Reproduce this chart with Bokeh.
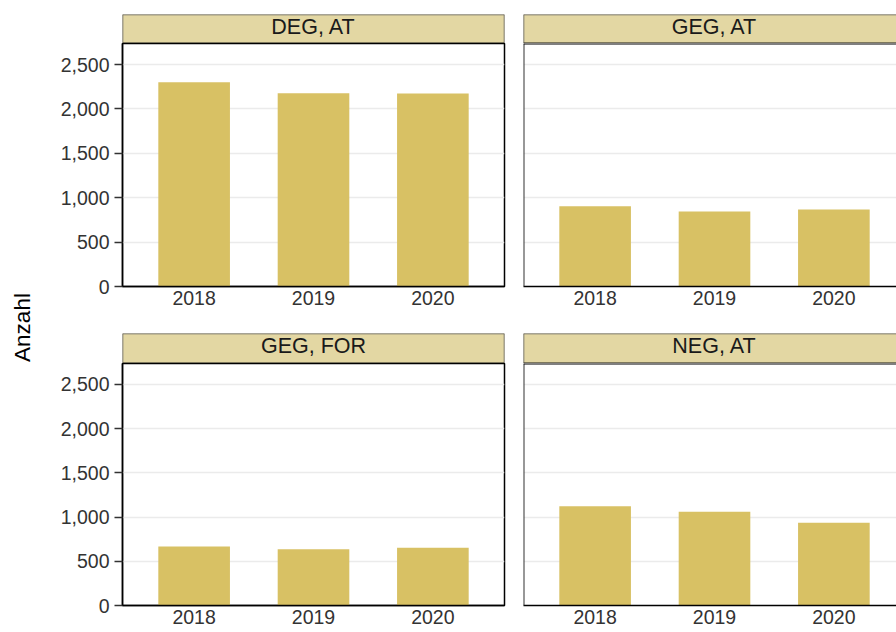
import math
from bokeh.plotting import figure
from bokeh.layouts import row, column
from bokeh.models import Range1d, FixedTicker, NumeralTickFormatter, Label, Span
from bokeh.embed import file_html
from bokeh.resources import INLINE

# ---- data ----
years = [2018, 2019, 2020]
panel_titles = ["DEG, AT", "GEG, AT", "GEG, FOR", "NEG, AT"]
deg_at = [2300, 2178, 2174]
geg_at = [904, 846, 868]
geg_for = [667, 637, 654]
neg_at = [1123, 1060, 937]
y_ticks = [0, 500, 1000, 1500, 2000, 2500]
y_label = "Anzahl"

# ---- style ----
BAR = "#D8C164"
STRIP = "#E3D7A3"
FONT = "Liberation Sans"
TICK_FS = "19.5px"
STRIP_FS = "21.5px"
TITLE_FS = "22.5px"
LABEL_COLOR = "#333333"

PX_PER_YEAR = 382 / 3.2
X0 = 2017.4
Y_END = 2737

ANZ_W = 48
LEFT_W, RIGHT_W = 465, 383
LEFT_MBL, LEFT_MBR = 74, 9
RIGHT_MBL, RIGHT_MBR = 10, 0
LEFT_FRAME, RIGHT_FRAME = 382, 373
TOTAL_H = 632
TOP_MBB, BOTTOM_MBB = 47, 27


def base_fig(width, height, frame_w, mbl, mbr, mbt, mbb, y_range, y_loc, x_loc):
    p = figure(width=width, height=height,
               x_range=Range1d(X0, X0 + frame_w / PX_PER_YEAR), y_range=y_range,
               output_backend="svg", toolbar_location=None,
               min_border_left=mbl, min_border_right=mbr,
               min_border_top=mbt, min_border_bottom=mbb,
               y_axis_location=y_loc, x_axis_location=x_loc)
    p.background_fill_color = "white"
    p.border_fill_color = "white"
    return p


def strip_fig(title, left_col, top):
    w = LEFT_W if left_col else RIGHT_W
    fw = LEFT_FRAME if left_col else RIGHT_FRAME
    mbl = LEFT_MBL if left_col else RIGHT_MBL
    mbr = LEFT_MBR if left_col else RIGHT_MBR
    mbt = 14 if top else 0
    h = 29 + mbt if top else 30
    p = base_fig(w, h, fw, mbl, mbr, mbt, 0, Range1d(0, 1), None, None)
    p.background_fill_color = STRIP
    p.grid.visible = False
    p.outline_line_color = None
    p.add_layout(Span(location=1, dimension="width", line_color="#5a5a5a", line_width=1.5))
    p.add_layout(Span(location=X0, dimension="height", line_color="#5a5a5a", line_width=1.5))
    if left_col:
        p.add_layout(Span(location=X0 + fw / PX_PER_YEAR, dimension="height",
                          line_color="#5a5a5a", line_width=1.5))
    p.add_layout(Span(location=0, dimension="width", line_color="#1a1a1a", line_width=2))
    p.add_layout(Label(x=2019, y=0.586 if top else 0.6, text=title, text_align="center",
                       text_baseline="middle", text_font=FONT,
                       text_font_size=STRIP_FS, text_color="#1a1a1a"))
    return p


def panel_fig(vals, left_col, top):
    w = LEFT_W if left_col else RIGHT_W
    fw = LEFT_FRAME if left_col else RIGHT_FRAME
    mbl = LEFT_MBL if left_col else RIGHT_MBL
    mbr = LEFT_MBR if left_col else RIGHT_MBR
    mbb = TOP_MBB if top else BOTTOM_MBB
    fh = 243 if top else 242
    p = base_fig(w, fh + mbb, fw, mbl, mbr, 0, mbb, Range1d(0, Y_END),
                 "left" if left_col else None, "below")
    p.vbar(x=years, top=vals, width=0.6, fill_color=BAR, line_color=None)
    p.xgrid.visible = False
    p.ygrid.ticker = FixedTicker(ticks=y_ticks)
    p.ygrid.grid_line_color = "#EBEBEB"
    p.ygrid.grid_line_width = 1.5
    p.ygrid.minor_grid_line_color = None

    xa = p.xaxis[0]
    xa.ticker = FixedTicker(ticks=years)
    xa.major_tick_out = 0
    xa.major_tick_in = 0
    xa.minor_tick_out = 0
    xa.minor_tick_in = 0
    xa.axis_line_color = "black"
    xa.axis_line_width = 1.5
    xa.major_label_text_font = FONT
    xa.major_label_text_font_size = TICK_FS
    xa.major_label_text_color = LABEL_COLOR
    xa.major_label_standoff = 4

    if left_col:
        ya = p.yaxis[0]
        ya.ticker = FixedTicker(ticks=y_ticks)
        ya.formatter = NumeralTickFormatter(format="0,0")
        ya.major_tick_out = 8
        ya.major_tick_in = 0
        ya.minor_tick_out = 0
        ya.minor_tick_in = 0
        ya.major_tick_line_color = "#333333"
        ya.major_tick_line_width = 1.5
        ya.axis_line_color = "black"
        ya.axis_line_width = 1.5
        ya.major_label_text_font = FONT
        ya.major_label_text_font_size = TICK_FS
        ya.major_label_text_color = LABEL_COLOR
        ya.major_label_standoff = 5
        p.outline_line_color = "black"
        p.outline_line_width = 1.5
    else:
        p.outline_line_color = None
        p.add_layout(Span(location=X0, dimension="height", line_color="#333333", line_width=2))
        p.add_layout(Span(location=Y_END, dimension="width", line_color="black", line_width=2))
    return p


# y-axis title column
anz = figure(width=ANZ_W, height=TOTAL_H, x_range=Range1d(0, ANZ_W), y_range=Range1d(0, TOTAL_H),
             output_backend="svg", toolbar_location=None, min_border=0,
             x_axis_location=None, y_axis_location=None)
anz.grid.visible = False
anz.outline_line_color = None
anz.add_layout(Label(x=22, y=305, text=y_label, angle=math.pi / 2, text_align="center",
                     text_baseline="middle", text_font=FONT, text_font_size=TITLE_FS,
                     text_color="black"))

tl = column(strip_fig(panel_titles[0], True, True), panel_fig(deg_at, True, True))
tr = column(strip_fig(panel_titles[1], False, True), panel_fig(geg_at, False, True))
bl = column(strip_fig(panel_titles[2], True, False), panel_fig(geg_for, True, False))
br = column(strip_fig(panel_titles[3], False, False), panel_fig(neg_at, False, False))

layout = row(anz, column(row(tl, tr), row(bl, br)))

open("out.html", "w").write(file_html(layout, INLINE))
